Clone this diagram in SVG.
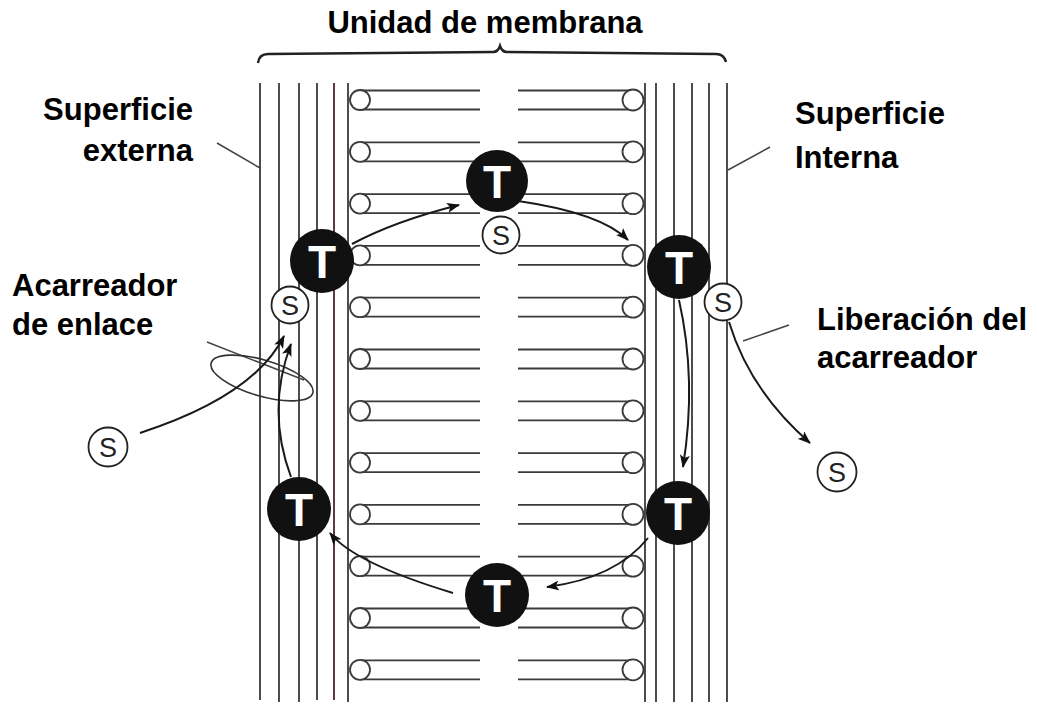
<svg xmlns="http://www.w3.org/2000/svg" width="1037" height="709" viewBox="0 0 1037 709">
  <style>
    .lbl { font-family: "Liberation Sans", Arial, sans-serif; font-weight: bold; font-size: 31px; fill: #000; }
    .mline { stroke: #3a3a3a; stroke-width: 1.8; fill: none; }
    .tail { stroke: #3a3a3a; stroke-width: 1.8; }
    .head { fill: #fff; stroke: #3a3a3a; stroke-width: 1.8; }
    .lead { stroke: #444; stroke-width: 1.5; fill: none; }
    .arrow { stroke: #1a1a1a; stroke-width: 2; fill: none; marker-end: url(#ah); }
    .tcirc { fill: #111; }
    .tlbl { font-family: "Liberation Sans", Arial, sans-serif; font-weight: bold; font-size: 46px; fill: #fff; text-anchor: middle; }
    .scirc { fill: #fff; stroke: #222; stroke-width: 1.8; }
    .slbl { font-family: "Liberation Sans", Arial, sans-serif; font-size: 27px; fill: #222; text-anchor: middle; }
  </style>
  <defs>
    <marker id="ah" viewBox="0 0 13 10" refX="12" refY="5" markerWidth="13" markerHeight="10" markerUnits="userSpaceOnUse" orient="auto">
      <path d="M0,0 L13,5 L0,10 L3,5 Z" fill="#111"/>
    </marker>
    <!-- one lipid of the outer leaflet: polar head plus two tails -->
    <g id="lipidL">
      <line class="tail" x1="360" y1="-9.5" x2="480" y2="-9.5"/>
      <line class="tail" x1="360" y1="9.5" x2="480" y2="9.5"/>
      <circle class="head" cx="360" cy="0" r="10"/>
    </g>
    <!-- one lipid of the inner leaflet -->
    <g id="lipidR">
      <line class="tail" x1="518" y1="-9.5" x2="633" y2="-9.5"/>
      <line class="tail" x1="518" y1="9.5" x2="633" y2="9.5"/>
      <circle class="head" cx="633" cy="0" r="10.5"/>
    </g>
  </defs>

  <rect width="1037" height="709" fill="#fff"/>

  <!-- bracket over the membrane unit -->
  <path d="M258,63 Q259,54 268,54 L493,52 Q498,52 500,46 Q502,52 507,52 L716,54 Q724,54 726,62" fill="none" stroke="#222" stroke-width="2.5"/>

  <!-- protein layers on both faces -->
  <g id="membrane">
    <path class="mline" d="M260,83 V700 M279,83 V702 M299,83 V702 M317,83 V700"/>
    <path d="M334,83 V700" stroke="#4a2626" stroke-width="1.8"/>
    <path class="mline" d="M348,83 V702"/>
    <path class="mline" d="M645,83 V702 M656,83 V702 M674,83 V702 M692,83 V702 M709,83 V702 M727,83 V702"/>

    <!-- lipid bilayer -->
    <g id="bilayer">
      <use href="#lipidL" y="100"/><use href="#lipidR" y="100"/>
      <use href="#lipidL" y="151.8"/><use href="#lipidR" y="151.8"/>
      <use href="#lipidL" y="203.6"/><use href="#lipidR" y="203.6"/>
      <use href="#lipidL" y="255.4"/><use href="#lipidR" y="255.4"/>
      <use href="#lipidL" y="307.2"/><use href="#lipidR" y="307.2"/>
      <use href="#lipidL" y="359"/><use href="#lipidR" y="359"/>
      <use href="#lipidL" y="410.8"/><use href="#lipidR" y="410.8"/>
      <use href="#lipidL" y="462.6"/><use href="#lipidR" y="462.6"/>
      <use href="#lipidL" y="514.4"/><use href="#lipidR" y="514.4"/>
      <use href="#lipidL" y="566.2"/><use href="#lipidR" y="566.2"/>
      <use href="#lipidL" y="618"/><use href="#lipidR" y="618"/>
      <use href="#lipidL" y="669.8"/><use href="#lipidR" y="669.8"/>
    </g>
  </g>

  <!-- leader lines and binding ring -->
  <g id="leaders">
    <line class="lead" x1="217" y1="143" x2="260" y2="168"/>
    <line class="lead" x1="728" y1="170" x2="770" y2="147"/>
    <line class="lead" x1="743" y1="341" x2="789" y2="325"/>
    <line class="lead" x1="207" y1="342" x2="304" y2="380"/>
    <ellipse cx="262" cy="378" rx="53" ry="18" transform="rotate(16.5 262 378)" fill="none" stroke="#333" stroke-width="1.6"/>
  </g>

  <!-- transport cycle -->
  <g id="connectors">
    <path class="arrow" d="M140,433 Q254,396 284,336"/>
    <path class="arrow" d="M291,477 Q266,410 291,344"/>
    <path class="arrow" d="M352,244 Q395,221 459,205"/>
    <path class="arrow" d="M518,201 Q601,213 628,240"/>
    <path class="arrow" d="M679,300 Q697,380 683,467"/>
    <path class="arrow" d="M729,322 Q750,391 810,443"/>
    <path class="arrow" d="M648,538 Q616,578 547,587"/>
    <path class="arrow" d="M453,593 Q354,563 330,533"/>
  </g>

  <!-- carrier T positions -->
  <g id="carrier-top"><circle class="tcirc" cx="497" cy="181" r="31"/><text class="tlbl" x="497" y="198">T</text></g>
  <g id="carrier-left-upper"><circle class="tcirc" cx="322" cy="261" r="32"/><text class="tlbl" x="322" y="278">T</text></g>
  <g id="carrier-right-upper"><circle class="tcirc" cx="679" cy="267" r="32"/><text class="tlbl" x="679" y="284">T</text></g>
  <g id="carrier-left-lower"><circle class="tcirc" cx="299" cy="509" r="32"/><text class="tlbl" x="299" y="526">T</text></g>
  <g id="carrier-right-lower"><circle class="tcirc" cx="678" cy="513" r="32"/><text class="tlbl" x="678" y="530">T</text></g>
  <g id="carrier-bottom"><circle class="tcirc" cx="497" cy="595" r="32"/><text class="tlbl" x="497" y="612">T</text></g>

  <!-- substrate S -->
  <g id="substrate-top"><circle class="scirc" cx="501" cy="235" r="18.5"/><text class="slbl" x="501" y="245">S</text></g>
  <g id="substrate-bound"><circle class="scirc" cx="290" cy="305" r="18.5"/><text class="slbl" x="290" y="315">S</text></g>
  <g id="substrate-released"><circle class="scirc" cx="723" cy="302" r="18.5"/><text class="slbl" x="723" y="312">S</text></g>
  <g id="substrate-outside"><circle class="scirc" cx="108" cy="447" r="19.5"/><text class="slbl" x="108" y="457">S</text></g>
  <g id="substrate-inside"><circle class="scirc" cx="837" cy="472" r="19.5"/><text class="slbl" x="837" y="482">S</text></g>

  <!-- labels -->
  <g id="labels">
    <text class="lbl" x="485" y="33" text-anchor="middle" font-size="32">Unidad de membrana</text>
    <text class="lbl" x="193" y="120" text-anchor="end">Superficie</text>
    <text class="lbl" x="193" y="161" text-anchor="end">externa</text>
    <text class="lbl" x="795" y="124">Superficie</text>
    <text class="lbl" x="795" y="168">Interna</text>
    <text class="lbl" x="12" y="296">Acarreador</text>
    <text class="lbl" x="12" y="335">de enlace</text>
    <text class="lbl" x="817" y="330">Liberación del</text>
    <text class="lbl" x="817" y="368">acarreador</text>
  </g>
</svg>
